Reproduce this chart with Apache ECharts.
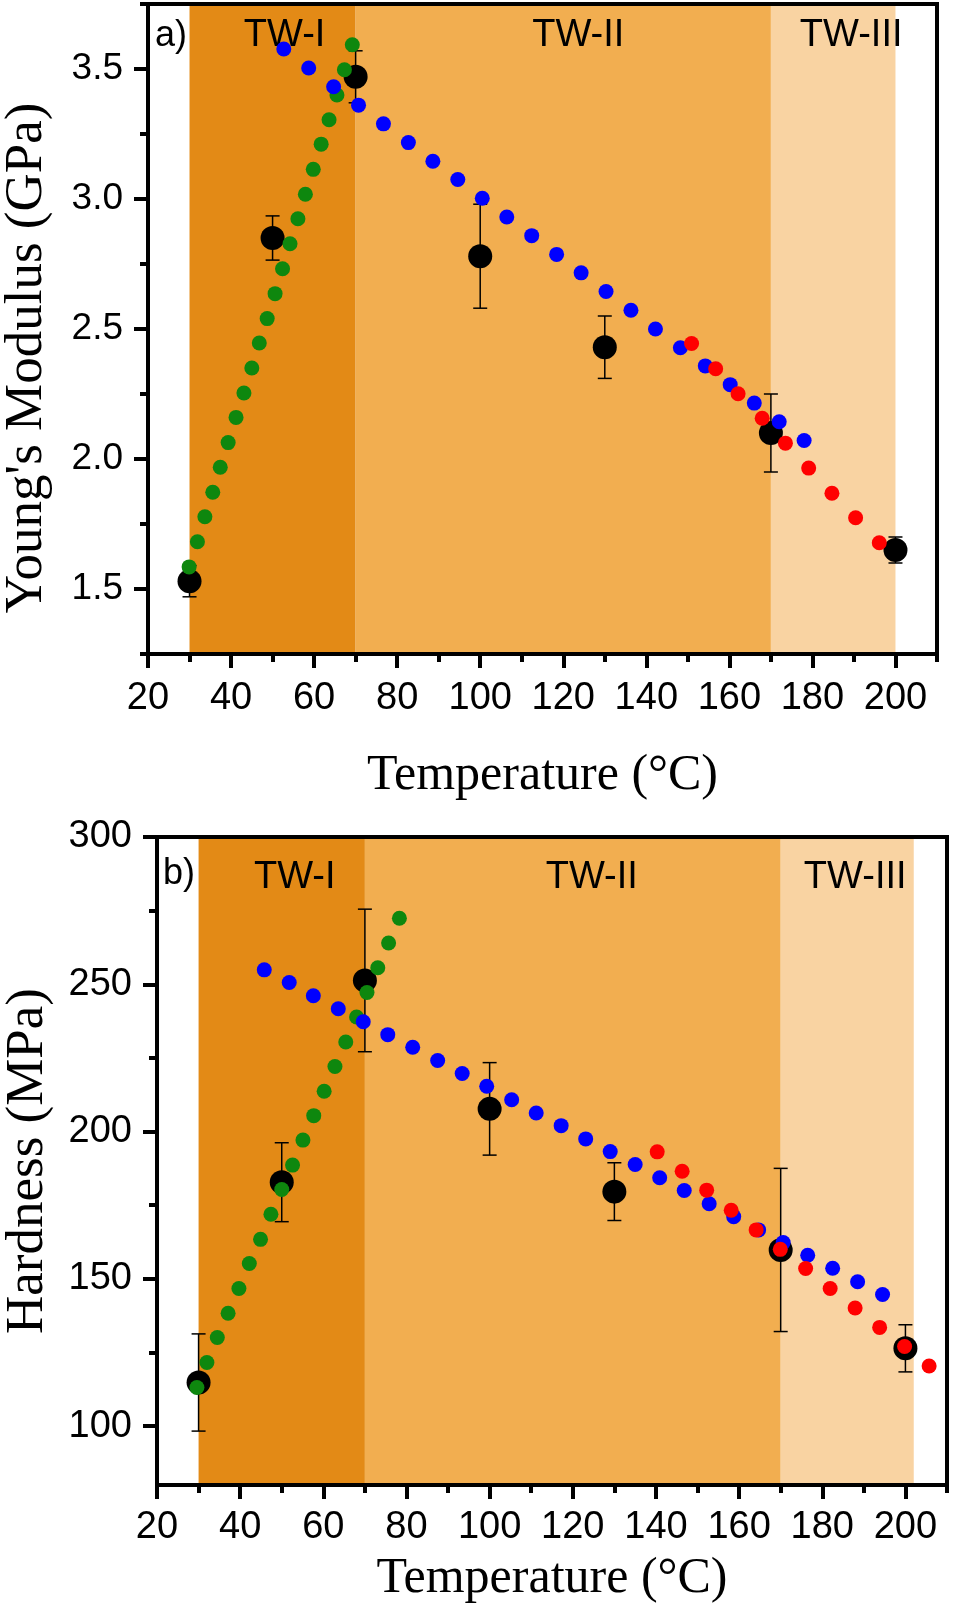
<!DOCTYPE html>
<html>
<head>
<meta charset="utf-8">
<title>Young's modulus and hardness vs temperature</title>
<script src="https://cdn.jsdelivr.net/npm/echarts@6/dist/echarts.min.js"></script>
<style>
  html, body { margin: 0; padding: 0; background: #fff; }
  #chart { width: 953px; height: 1605px; }
</style>
</head>
<body>
<div id="chart"></div>
<script>
// ---- data ----
var xMajor = [20, 40, 60, 80, 100, 120, 140, 160, 180, 200];
var xMinor = [30, 50, 70, 90, 110, 130, 150, 170, 190, 210];
var zoneNames = ['TW-I', 'TW-II', 'TW-III'];

// a) Young's modulus (GPa)
var modYMajor = [1.5, 2.0, 2.5, 3.0, 3.5];
var modYMinor = [1.25, 1.75, 2.25, 2.75, 3.25, 3.75];
var modZones = [[30, 70], [70, 170], [170, 200]];
var modTemp = [30, 50, 70, 100, 130, 170, 200];
var modMean = [1.53, 2.85, 3.47, 2.78, 2.43, 2.10, 1.65];
var modErr = [0.06, 0.085, 0.10, 0.20, 0.12, 0.15, 0.05];
var modGreenX = [29.9, 31.9, 33.7, 35.6, 37.4, 39.3, 41.2, 43.1, 45.0, 46.8, 48.7, 50.6, 52.4, 54.2, 56.1, 57.9, 59.8, 61.7, 63.6, 65.5, 67.3, 69.2];
var modGreenY = [1.585, 1.682, 1.778, 1.872, 1.968, 2.063, 2.160, 2.254, 2.350, 2.446, 2.540, 2.636, 2.732, 2.828, 2.924, 3.018, 3.114, 3.211, 3.305, 3.400, 3.497, 3.593];
var modBlueX = [52.7, 58.7, 64.7, 70.7, 76.7, 82.7, 88.6, 94.6, 100.5, 106.4, 112.4, 118.4, 124.3, 130.3, 136.3, 142.2, 148.2, 154.2, 160.2, 166.0, 172.0, 178.0];
var modBlueY = [3.577, 3.504, 3.432, 3.361, 3.289, 3.217, 3.145, 3.075, 3.003, 2.931, 2.859, 2.787, 2.716, 2.644, 2.572, 2.500, 2.428, 2.358, 2.286, 2.215, 2.143, 2.071];
var modRedX = [150.9, 156.7, 162.1, 167.9, 173.5, 179.1, 184.7, 190.4, 196.1];
var modRedY = [2.444, 2.347, 2.251, 2.157, 2.061, 1.965, 1.868, 1.774, 1.678];

// b) Hardness (MPa)
var hardYMajor = [100, 150, 200, 250, 300];
var hardYMinor = [125, 175, 225, 275];
var hardZones = [[30, 70], [70, 170], [170, 202]];
var hardTemp = [30, 50, 70, 100, 130, 170, 200];
var hardMean = [114.8, 182.8, 251.3, 207.7, 179.6, 159.8, 126.4];
var hardErr = [16.5, 13.4, 24.2, 15.7, 9.8, 27.7, 8.0];
var hardGreenX = [29.6, 32.0, 34.5, 37.1, 39.7, 42.2, 44.9, 47.4, 50.0, 52.6, 55.1, 57.7, 60.2, 62.8, 65.4, 68.0, 70.5, 73.1, 75.7, 78.3];
var hardGreenY = [113.1, 121.6, 130.1, 138.3, 146.7, 155.2, 163.4, 171.9, 180.3, 188.6, 197.1, 205.4, 213.7, 222.1, 230.4, 238.9, 247.2, 255.6, 264.0, 272.4];
var hardBlueX = [45.8, 51.8, 57.6, 63.6, 69.6, 75.5, 81.5, 87.5, 93.4, 99.3, 105.3, 111.2, 117.2, 123.1, 129.0, 135.0, 140.9, 146.8, 152.8, 158.7, 164.7, 170.6, 176.5, 182.5, 188.5, 194.5];
var hardBlueY = [254.9, 250.6, 246.1, 241.7, 237.3, 232.9, 228.6, 224.1, 219.7, 215.4, 210.8, 206.3, 202.0, 197.5, 193.2, 188.8, 184.3, 180.0, 175.5, 171.1, 166.6, 162.3, 158.0, 153.6, 149.0, 144.7];
var hardRedX = [140.3, 146.3, 152.2, 158.1, 164.1, 169.9, 176.0, 181.9, 187.9, 193.8, 199.8, 205.7];
var hardRedY = [193.1, 186.5, 180.1, 173.3, 166.6, 160.0, 153.5, 146.7, 140.1, 133.5, 127.0, 120.4];

// ---- styling ----
var SANS = 'Liberation Sans';
var SERIF = 'Liberation Serif';
var zoneColors = ['#e38a16', '#f2ae50', '#f9d3a2'];
var GREEN = '#0e870e', BLUE = '#0000ff', RED = '#ff0000';

function zip(xs, ys) {
    return xs.map(function (x, i) { return [x, ys[i]]; });
}

function errData(xs, mean, err) {
    return xs.map(function (x, i) { return [x, mean[i] - err[i], mean[i] + err[i]]; });
}

function renderErr(params, api) {
    var x = api.value(0);
    var top = api.coord([x, api.value(2)]);
    var bot = api.coord([x, api.value(1)]);
    var w = 7;
    var st = { stroke: '#000', lineWidth: 1.5 };
    return {
        type: 'group',
        children: [
            { type: 'line', shape: { x1: top[0], y1: top[1], x2: bot[0], y2: bot[1] }, style: st },
            { type: 'line', shape: { x1: top[0] - w, y1: top[1], x2: top[0] + w, y2: top[1] }, style: st },
            { type: 'line', shape: { x1: bot[0] - w, y1: bot[1], x2: bot[0] + w, y2: bot[1] }, style: st }
        ]
    };
}

var lineBlack = { color: '#000', width: 4, cap: 'square' };

// three x axes per panel: main (labels + major ticks), minor ticks, top frame
function makeXAxes(g, nameGap, labelMargin) {
    return [
        {
            gridIndex: g, type: 'value', min: 20, max: 210, position: 'bottom', z: 10,
            axisLine: { onZero: false, lineStyle: lineBlack },
            axisTick: { customValues: xMajor, length: 14, lineStyle: { color: '#000', width: 4 } },
            axisLabel: { customValues: xMajor, fontSize: 38, fontFamily: SANS, color: '#000', margin: labelMargin },
            splitLine: { show: false },
            name: 'Temperature (°C)', nameLocation: 'middle', nameGap: nameGap,
            nameTextStyle: { fontFamily: SERIF, fontSize: 50, color: '#000' }
        },
        {
            gridIndex: g, type: 'value', min: 20, max: 210, position: 'bottom', z: 10,
            axisLine: { show: false },
            axisTick: { customValues: xMinor, length: 8, lineStyle: { color: '#000', width: 4 } },
            axisLabel: { show: false },
            splitLine: { show: false }
        },
        {
            gridIndex: g, type: 'value', min: 20, max: 210, position: 'top', z: 10,
            axisLine: { onZero: false, lineStyle: lineBlack },
            axisTick: { show: false }, axisLabel: { show: false }, splitLine: { show: false }
        }
    ];
}

function makeYAxes(g, min, max, major, minor, opts) {
    return [
        {
            gridIndex: g, type: 'value', min: min, max: max, position: 'left', z: 10,
            axisLine: { onZero: false, lineStyle: lineBlack },
            axisTick: { customValues: major, length: 14, lineStyle: { color: '#000', width: 4 } },
            axisLabel: {
                customValues: major, fontSize: opts.labelSize, fontFamily: SANS, color: '#000', margin: 25,
                formatter: opts.fmt
            },
            splitLine: { show: false },
            name: opts.name, nameLocation: 'middle', nameRotate: 90, nameGap: opts.nameGap,
            nameTextStyle: { fontFamily: SERIF, fontSize: 53, color: '#000', padding: opts.namePad }
        },
        {
            gridIndex: g, type: 'value', min: min, max: max, position: 'left', z: 10,
            axisLine: { show: false },
            axisTick: { customValues: minor, length: 8, lineStyle: { color: '#000', width: 4 } },
            axisLabel: { show: false },
            splitLine: { show: false }
        },
        {
            gridIndex: g, type: 'value', min: min, max: max, position: 'right', z: 10,
            axisLine: { onZero: false, lineStyle: lineBlack },
            axisTick: { show: false }, axisLabel: { show: false }, splitLine: { show: false }
        }
    ];
}

function zoneArea(zones, labelOffsets, dy) {
    return {
        silent: true,
        data: zones.map(function (z, i) {
            return [{
                xAxis: z[0], yAxis: 'min',
                itemStyle: { color: zoneColors[i], opacity: 1 },
                label: {
                    show: true, position: 'insideTop', distance: dy, offset: [labelOffsets[i], 0],
                    formatter: zoneNames[i], fontSize: 38, fontFamily: SANS, color: '#000'
                }
            }, { xAxis: z[1], yAxis: 'max' }];
        })
    };
}

function panelSeries(xi, yi, p) {
    var dot = function (data, color) {
        return {
            type: 'scatter', xAxisIndex: xi, yAxisIndex: yi, z: 4,
            symbol: 'circle', symbolSize: 15, data: data,
            itemStyle: { color: color, opacity: 1 }
        };
    };
    return [
        {
            type: 'scatter', xAxisIndex: xi, yAxisIndex: yi, z: 1, data: [],
            markArea: zoneArea(p.zones, p.labelOffsets, p.labelDist)
        },
        {
            type: 'custom', xAxisIndex: xi, yAxisIndex: yi, z: 3,
            renderItem: renderErr, encode: { x: 0, y: [1, 2] },
            data: errData(p.temp, p.mean, p.err)
        },
        {
            type: 'scatter', xAxisIndex: xi, yAxisIndex: yi, z: 3,
            symbol: 'circle', symbolSize: 24, data: zip(p.temp, p.mean),
            itemStyle: { color: '#000', opacity: 1 }
        },
        dot(p.green, GREEN),
        dot(p.blue, BLUE),
        dot(p.red, RED)
    ];
}

var myChart = echarts.init(document.getElementById('chart'), null, { renderer: 'canvas' });

var option = {
    animation: false,
    backgroundColor: '#fff',
    grid: [
        { left: 148, top: 4, width: 789, height: 650, show: false, containLabel: false, outerBoundsMode: 'none' },
        { left: 157, top: 837, width: 790, height: 648, show: false, containLabel: false, outerBoundsMode: 'none' }
    ],
    xAxis: makeXAxes(0, 97, 26).concat(makeXAxes(1, 69, 24)),
    yAxis: makeYAxes(0, 1.25, 3.75, modYMajor, modYMinor, {
        labelSize: 37, name: "Young's Modulus (GPa)", nameGap: 94, namePad: [0, 58, 0, 0],
        fmt: function (v) { return v.toFixed(1); }
    }).concat(makeYAxes(1, 80, 300, hardYMajor, hardYMinor, {
        labelSize: 38, name: 'Hardness (MPa)', nameGap: 102, namePad: [0, 0, 0, 0],
        fmt: function (v) { return String(v); }
    })),
    graphic: [
        { type: 'text', left: 155, top: 18, z: 20, style: { text: 'a)', font: '36px "Liberation Sans"', fill: '#000' } },
        { type: 'text', left: 163, top: 856, z: 20, style: { text: 'b)', font: '36px "Liberation Sans"', fill: '#000' } }
    ],
    series: panelSeries(0, 0, {
        zones: modZones, labelOffsets: [12, 15, 18], labelDist: 13,
        temp: modTemp, mean: modMean, err: modErr,
        green: zip(modGreenX, modGreenY), blue: zip(modBlueX, modBlueY), red: zip(modRedX, modRedY)
    }).concat(panelSeries(3, 3, {
        zones: hardZones, labelOffsets: [13, 19, 8], labelDist: 22,
        temp: hardTemp, mean: hardMean, err: hardErr,
        green: zip(hardGreenX, hardGreenY), blue: zip(hardBlueX, hardBlueY), red: zip(hardRedX, hardRedY)
    }))
};

myChart.setOption(option);
</script>
</body>
</html>
